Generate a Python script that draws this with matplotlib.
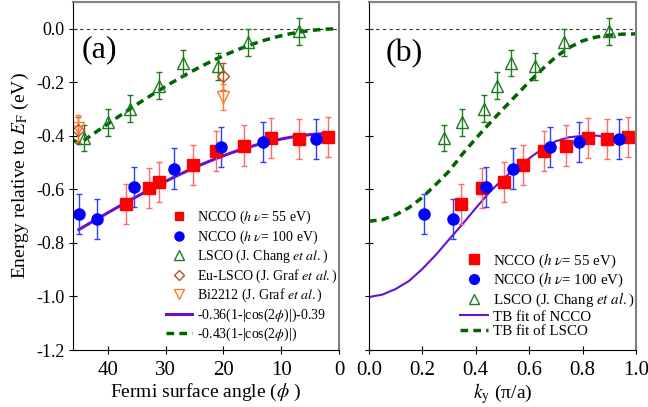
import matplotlib
matplotlib.use('Agg')
import matplotlib.pyplot as plt
import numpy as np
from matplotlib.lines import Line2D

plt.rcParams['font.family'] = ['Liberation Serif', 'DejaVu Serif']
plt.rcParams['mathtext.fontset'] = 'stix'
plt.rcParams['axes.unicode_minus'] = False

# ---- panel (a): energy vs Fermi surface angle ----
ncco55_phi = [36.9, 32.8, 31.1, 25.3, 21.2, 16.5, 11.8, 6.9, 1.9]
ncco55_E = [-0.655, -0.594, -0.572, -0.510, -0.458, -0.436, -0.408, -0.411, -0.405]
ncco100_phi = [45.0, 41.8, 35.5, 28.5, 20.4, 13.2, 4.0]
ncco100_E = [-0.691, -0.710, -0.592, -0.522, -0.441, -0.423, -0.411]
lsco_phi = [44.1, 40.0, 36.2, 31.1, 26.9, 20.9, 15.8, 7.0]
lsco_E = [-0.408, -0.350, -0.298, -0.213, -0.128, -0.140, -0.050, -0.010]
eu_phi = [45.1, 20.0]
eu_E = [-0.378, -0.178]
bi_phi = [45.1, 20.0]
bi_E = [-0.372, -0.255]
ncco_err = 0.075
lsco_err = 0.05
graf_err = 0.05

# ---- panel (b): energy vs ky ----
ncco55_ky = [0.343, 0.422, 0.506, 0.578, 0.657, 0.737, 0.819, 0.891, 0.970]
ncco100_ky = [0.207, 0.316, 0.438, 0.539, 0.678, 0.787, 0.938]
lsco_ky = [0.282, 0.350, 0.431, 0.478, 0.532, 0.622, 0.732, 0.900]

# TB fit curves
tb_k = [0.0, 0.05, 0.1, 0.15, 0.2, 0.25, 0.3, 0.35, 0.4, 0.45, 0.5,
        0.55, 0.6, 0.65, 0.7, 0.75, 0.8, 0.85, 0.9, 0.95, 1.0]
tb_ncco = [-1.002, -0.993, -0.972, -0.942, -0.897, -0.845, -0.787, -0.730, -0.670, -0.612, -0.563,
           -0.520, -0.484, -0.448, -0.420, -0.405, -0.400, -0.399, -0.405, -0.415, -0.424]
tb_lsco = [-0.719, -0.713, -0.695, -0.668, -0.630, -0.582, -0.532, -0.468, -0.410, -0.355, -0.302,
           -0.250, -0.198, -0.150, -0.105, -0.070, -0.045, -0.031, -0.024, -0.020, -0.019]

yticks = [-1.2, -1.0, -0.8, -0.6, -0.4, -0.2, 0.0]
ytick_labels = ['-1.2', '-1.0', '-0.8', '-0.6', '-0.4', '-0.2', '0.0']
kticks = [0.0, 0.2, 0.4, 0.6, 0.8, 1.0]
ktick_labels = ['0.0', '0.2', '0.4', '0.6', '0.8', '1.0']

red = '#ff0000'
red_err = '#ff6a6a'
blue = '#0000ff'
blue_err = '#3040ff'
green = '#1e7b1e'
green_fit = '#006400'
brown = '#c0501a'
orange = '#ff7a2a'
purple = '#6a10d0'
dash = (0, (2.2, 1.5))

fig = plt.figure(figsize=(6.48, 4.07), dpi=100)
ax1 = fig.add_axes([0.1127, 0.140, 0.4105, 0.855])
ax2 = fig.add_axes([0.5694, 0.140, 0.412, 0.855])

eb = dict(capsize=2.5, elinewidth=1.0, capthick=1.0, linestyle='none')

# panel (a)
ax1.axhline(0, color='#333333', lw=0.8, ls=(0, (3, 3)))
phi = np.linspace(45, 2, 200)
ax1.plot(phi, -0.36 * (1 - np.abs(np.cos(2 * np.radians(phi)))) - 0.39, color=purple, lw=2.2)
phi2 = np.linspace(46, 0, 200)
ax1.plot(phi2, -0.43 * (1 - np.abs(np.cos(2 * np.radians(phi2)))), color=green_fit, lw=2.5, ls=dash)
ax1.errorbar(lsco_phi, lsco_E, yerr=lsco_err, marker='^', ms=8, mfc='none', mec=green,
             ecolor=green, **eb)
ax1.errorbar(eu_phi, eu_E, yerr=graf_err, marker='D', ms=6, mfc='none', mec=brown,
             ecolor=brown, **eb)
ax1.errorbar(bi_phi, bi_E, yerr=graf_err, marker='v', ms=8, mfc='none', mec=orange,
             ecolor=orange, **eb)
ax1.errorbar(ncco55_phi, ncco55_E, yerr=ncco_err, marker='s', ms=8, color=red, ecolor=red_err, **eb)
ax1.errorbar(ncco100_phi, ncco100_E, yerr=ncco_err, marker='o', ms=8, color=blue, ecolor=blue_err, **eb)

ax1.set_xlim(46, 0)
ax1.set_ylim(-1.2, 0.1)
ax1.set_xticks([40, 30, 20, 10, 0])
ax1.set_yticks(yticks)
ax1.set_yticklabels(ytick_labels)
ax1.set_xlabel(r'Fermi surface angle ($\phi$ )', fontsize=14, labelpad=1)
ax1.set_ylabel(r'Energy relative to $E_\mathrm{F}$ (eV)', fontsize=14, labelpad=4)
ax1.text(0.033, 0.862, '(a)', transform=ax1.transAxes, fontsize=23, ha='left', va='center')

h1 = [
    Line2D([], [], ls='none', marker='s', ms=6, color=red),
    Line2D([], [], ls='none', marker='o', ms=6.5, color=blue),
    Line2D([], [], ls='none', marker='^', ms=6.5, mfc='none', mec=green),
    Line2D([], [], ls='none', marker='D', ms=5, mfc='none', mec=brown),
    Line2D([], [], ls='none', marker='v', ms=6.5, mfc='none', mec=orange),
    Line2D([], [], color=purple, lw=2.2),
    Line2D([], [], color=green_fit, lw=2.5, ls=dash),
]
l1 = [
    r'NCCO ($h\ \nu$= 55 eV)',
    r'NCCO ($h\ \nu$= 100 eV)',
    r'LSCO (J. Chang $et\ al.$)',
    r'Eu-LSCO (J. Graf $et\ al.$)',
    r'Bi2212 (J. Graf $et\ al.$)',
    r'-0.36(1-|cos(2$\phi$)|)-0.39',
    r'-0.43(1-|cos(2$\phi$)|)',
]
ax1.legend(h1, l1, loc='upper left', bbox_to_anchor=(0.35, 0.405), frameon=False, fontsize=10,
           labelspacing=0.15, handlelength=1.87, handletextpad=0.36, borderpad=0, borderaxespad=0)

# panel (b)
ax2.axhline(0, color='#333333', lw=0.8, ls=(0, (3, 3)))
ax2.plot(tb_k, tb_ncco, color=purple, lw=1.5)
ax2.plot(tb_k, tb_lsco, color=green_fit, lw=2.5, ls=dash)
ax2.errorbar(lsco_ky, lsco_E, yerr=lsco_err, marker='^', ms=8, mfc='none', mec=green,
             ecolor=green, **eb)
ax2.errorbar(ncco55_ky, ncco55_E, yerr=ncco_err, marker='s', ms=8, color=red, ecolor=red_err, **eb)
ax2.errorbar(ncco100_ky, ncco100_E, yerr=ncco_err, marker='o', ms=8, color=blue, ecolor=blue_err, **eb)

ax2.set_xlim(0, 1.0)
ax2.set_ylim(-1.2, 0.1)
ax2.set_xticks(kticks)
ax2.set_xticklabels(ktick_labels)
ax2.set_yticks(yticks)
ax2.set_yticklabels([])
ax2.set_xlabel(r'$k_\mathrm{y}$ (π/a)', fontsize=14, labelpad=1)
ax2.text(0.0625, 0.853, '(b)', transform=ax2.transAxes, fontsize=23, ha='left', va='center')

h2 = [
    Line2D([], [], ls='none', marker='s', ms=7, color=red),
    Line2D([], [], ls='none', marker='o', ms=7, color=blue),
    Line2D([], [], ls='none', marker='^', ms=7, mfc='none', mec=green),
    Line2D([], [], color=purple, lw=1.5),
    Line2D([], [], color=green_fit, lw=2.5, ls=dash),
]
l2 = [
    r'NCCO ($h\ \nu$= 55 eV)',
    r'NCCO ($h\ \nu$= 100 eV)',
    r'LSCO (J. Chang $et\ al.$)',
    'TB fit of NCCO',
    'TB fit of LSCO',
]
ax2.legend(h2, l2, loc='upper left', bbox_to_anchor=(0.341, 0.283), frameon=False, fontsize=10.8,
           labelspacing=0.08, handlelength=1.85, handletextpad=0.37, borderpad=0, borderaxespad=0)

for ax in (ax1, ax2):
    ax.tick_params(direction='inout', length=6, width=0.8, pad=3)
    ax.tick_params(axis='y', labelsize=13)
    ax.tick_params(axis='x', labelsize=15, pad=5)
    ax.spines['top'].set_color('#808080')
    ax.spines['right'].set_color('#808080')
    ax.spines['right'].set_linewidth(1.5)
    ax.spines['top'].set_linewidth(1.5)

fig.savefig('out.png', dpi=100)
